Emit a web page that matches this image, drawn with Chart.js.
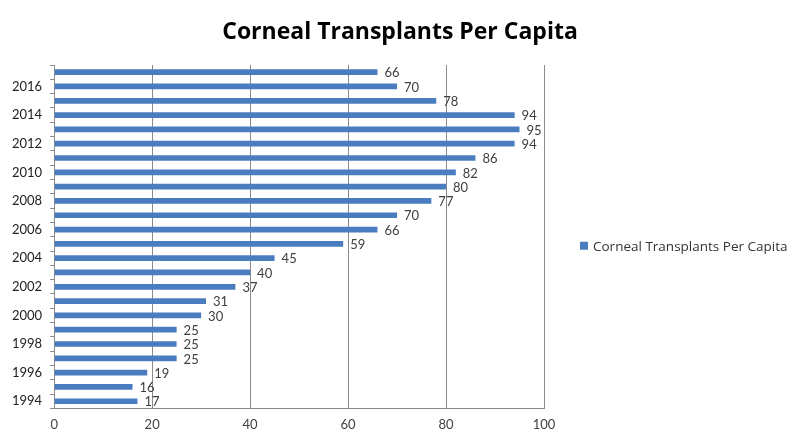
<!DOCTYPE html>
<html><head><meta charset="utf-8">
<script src="https://cdn.jsdelivr.net/npm/chart.js@4/dist/chart.umd.min.js"></script>
<style>html,body{margin:0;padding:0;background:#fff}#wrap{width:800px;height:442px}</style>
</head><body><div id="wrap"><canvas id="c" width="800" height="442"></canvas></div>
<script>
const years = [1994,1995,1996,1997,1998,1999,2000,2001,2002,2003,2004,2005,2006,2007,2008,2009,2010,2011,2012,2013,2014,2015,2016,2017];
const values = [17,16,19,25,25,25,30,31,37,40,45,59,66,70,77,80,82,86,94,95,94,78,70,66];
const xTicks = [0,20,40,60,80,100];
const seriesName = 'Corneal Transplants Per Capita';
const FONT = 'Lato, "Open Sans", sans-serif';
const WIDE = '"Open Sans", Lato, sans-serif';
const BAR_COLOR = '#4a7dbf';

const valueLabels = {
  id: 'valueLabels',
  afterDatasetsDraw(chart) {
    const ctx = chart.ctx;
    const meta = chart.getDatasetMeta(0);
    ctx.save();
    ctx.font = '13px ' + FONT;
    ctx.fillStyle = '#404040';
    ctx.textBaseline = 'middle';
    ctx.textAlign = 'left';
    meta.data.forEach((bar, i) => {
      ctx.fillText(String(values[i]), bar.x + 7, bar.y + 1);
    });
    ctx.restore();
  }
};

const decorations = {
  id: 'decorations',
  afterDraw(chart) {
    const ctx = chart.ctx;
    const a = chart.chartArea;
    ctx.save();
    // title centered on the canvas
    ctx.font = 'bold 23px ' + WIDE;
    ctx.fillStyle = '#000';
    ctx.textAlign = 'center';
    ctx.textBaseline = 'middle';
    ctx.fillText(seriesName, chart.width / 2, 32);
    // legend to the right
    const x = a.right + 36;
    const y = (a.top + a.bottom) / 2 + 9;
    ctx.fillStyle = BAR_COLOR;
    ctx.fillRect(x, y - 4, 8, 8);
    ctx.font = '13.5px ' + WIDE;
    ctx.fillStyle = '#333';
    ctx.textAlign = 'left';
    ctx.fillText(chart.data.datasets[0].label, x + 13, y + 1);
    ctx.restore();
  }
};

new Chart(document.getElementById('c'), {
  type: 'bar',
  data: {
    labels: years.map(String),
    datasets: [{
      label: seriesName,
      data: values,
      backgroundColor: BAR_COLOR,
      borderWidth: 0,
      categoryPercentage: 1,
      barPercentage: 0.4
    }]
  },
  options: {
    indexAxis: 'y',
    responsive: false,
    animation: false,
    layout: { padding: { left: 4, right: 256, top: 65, bottom: 0 } },
    plugins: {
      title: { display: false },
      legend: { display: false },
      tooltip: { enabled: false }
    },
    scales: {
      x: {
        min: 0, max: 100,
        afterBuildTicks(scale) { scale.ticks = xTicks.map(v => ({ value: v })); },
        grid: { color: '#8a8a8a', lineWidth: 1, drawTicks: false },
        border: { color: '#8a8a8a' },
        ticks: { font: { family: FONT, size: 13 }, color: '#404040', padding: 9 }
      },
      y: {
        reverse: true,
        offset: true,
        grid: { display: true, drawOnChartArea: false, offset: true, color: '#8a8a8a', tickLength: 4 },
        border: { color: '#8a8a8a' },
        ticks: {
          autoSkip: false,
          font: { family: FONT, size: 13 },
          color: '#222',
          padding: 8,
          callback(v) { const y = Number(this.getLabelForValue(v)); return y % 2 === 0 ? String(y) : ''; }
        }
      }
    }
  },
  plugins: [valueLabels, decorations]
});
</script></body></html>
